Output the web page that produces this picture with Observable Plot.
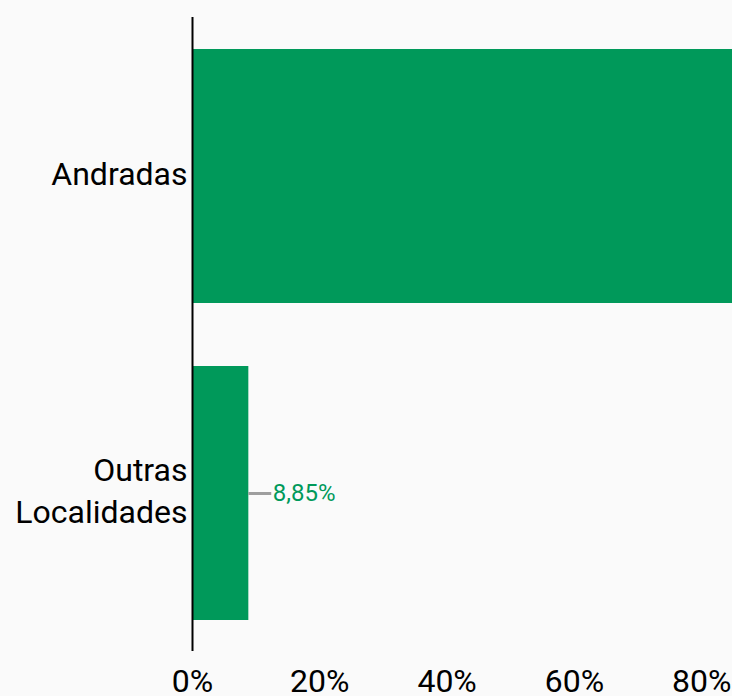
<!DOCTYPE html>
<html>
<head>
<meta charset="utf-8">
<script src="https://cdn.jsdelivr.net/npm/d3@7"></script>
<script src="https://cdn.jsdelivr.net/npm/@observablehq/plot@0.6"></script>
<style>
  html, body { margin: 0; padding: 0; background: #fafafa; }
  #chart svg { display: block; }
</style>
</head>
<body>
<div id="chart"></div>
<script>
const categories = ["Andradas", "Outras Localidades"];
const categoryLabels = ["Andradas", "Outras\nLocalidades"];
const values = [91.15, 8.85];
const valueLabels = ["91,15%", "8,85%"];
const xTicks = [0, 20, 40, 60, 80];
const xTickLabels = ["0%", "20%", "40%", "60%", "80%"];

const data = categories.map((c, i) => ({category: c, value: values[i], label: valueLabels[i]}));
const green = "#00995a";
const font = "Roboto, sans-serif";

const chart = Plot.plot({
  width: 732,
  height: 696,
  marginLeft: 192,
  marginRight: 0,
  marginTop: 17,
  marginBottom: 45,
  style: {background: "#fafafa", fontFamily: font, color: "#000"},
  x: {domain: [0, 84.84], ticks: xTicks},
  y: {domain: categories, paddingInner: 0.2, paddingOuter: 0.1},
  marks: [
    Plot.barX(data, {x: "value", y: "category", fill: green, clip: true}),
    Plot.ruleY(data, {y: "category", x1: "value", x2: d => d.value + 3.6, stroke: "#9e9e9e", strokeWidth: 3, clip: true}),
    Plot.text(data, {y: "category", x: "value", text: "label", dx: 24, textAnchor: "start", fill: green, fontSize: 24, clip: true}),
    Plot.ruleX([0], {stroke: "#000", strokeWidth: 2}),
    Plot.axisX({ticks: xTicks, tickSize: 0, tickPadding: 18, fontSize: 32, tickFormat: (d) => xTickLabels[xTicks.indexOf(d)], label: null}),
    Plot.axisY({tickSize: 0, tickPadding: 5, dy: -5, fontSize: 32, lineHeight: 1.31, tickFormat: (d) => categoryLabels[categories.indexOf(d)], label: null})
  ]
});
document.getElementById("chart").appendChild(chart);
</script>
</body>
</html>
